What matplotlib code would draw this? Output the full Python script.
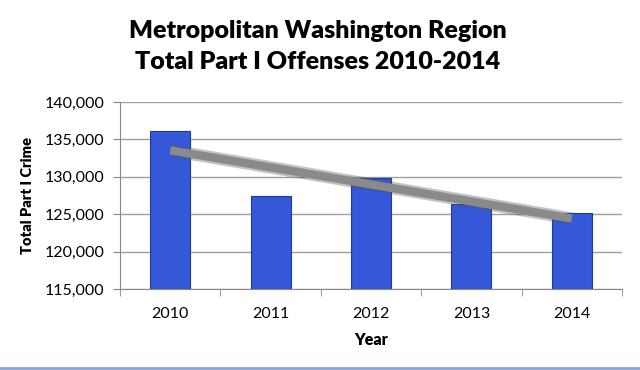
from matplotlib import pyplot as plt
from matplotlib.ticker import FuncFormatter
import numpy as np

plt.rcParams['font.family'] = ['Lato', 'DejaVu Sans']

years = ['2010', '2011', '2012', '2013', '2014']
offenses = [136100, 127400, 129800, 126400, 125200]

fig = plt.figure(figsize=(6.4, 3.7), dpi=100)
ax = fig.add_axes([120/640, 1-289/370, 502/640, 187/370])

x = np.arange(len(years))
ax.bar(x, offenses, width=0.4, color='#3558d8', edgecolor='#1f3a9e', linewidth=0.8, zorder=3)

# linear trendline
k, b = np.polyfit(x, offenses, 1)
ax.plot(x, k*x + b, color='#555555', linewidth=9, alpha=0.35, solid_capstyle='butt', zorder=4)
ax.plot(x, k*x + b, color='#8a8a8a', linewidth=6, solid_capstyle='butt', zorder=5)

ax.set_xlim(-0.5, 4.5)
ax.set_ylim(115000, 140000)
ax.set_yticks(np.arange(115000, 140001, 5000))
ax.yaxis.set_major_formatter(FuncFormatter(lambda v, p: f'{int(v):,}'))
ax.set_xticks(x)
ax.set_xticklabels(years)
ax.set_xticks(np.arange(-0.5, 5, 1), minor=True)
ax.tick_params(axis='x', which='major', length=0, pad=13)
ax.tick_params(axis='x', which='minor', length=5, color='#888888')
ax.tick_params(axis='y', length=5, color='#888888', direction='out', pad=6)
ax.tick_params(labelsize=11.5)
ax.grid(axis='y', color='#a0a0a0', linewidth=1, zorder=0)

for s in ['top', 'right']:
    ax.spines[s].set_visible(False)
ax.spines['left'].set_color('#888888')
ax.spines['bottom'].set_color('#888888')

ax.set_xlabel('Year', fontsize=11.5, fontweight='heavy', labelpad=8)
ax.set_ylabel('Total Part I Crime', fontsize=10.5, fontweight='heavy', labelpad=8)

fig.text(0.497, 0.915, 'Metropolitan Washington Region', ha='center', va='center',
         fontsize=18, fontweight='heavy')
fig.text(0.497, 0.832, 'Total Part I Offenses 2010-2014', ha='center', va='center',
         fontsize=18, fontweight='heavy')

fig.add_artist(plt.Line2D([0, 1], [2.5/370, 2.5/370], color='#8aa6d6', linewidth=2))

fig.savefig('out.png', dpi=100)
